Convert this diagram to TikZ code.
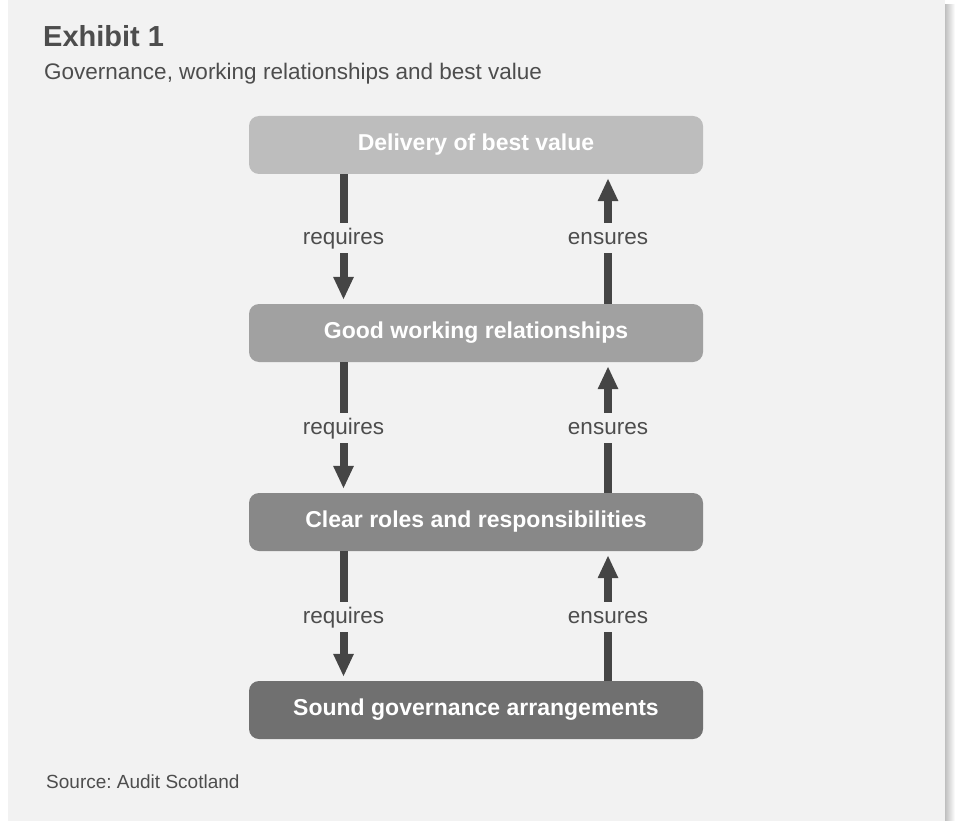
\documentclass[tikz,border=0pt]{standalone}
\usepackage{fontspec}
\setmainfont{Liberation Sans}
\usetikzlibrary{arrows.meta}
\frenchspacing

\definecolor{panel}{HTML}{F2F2F2}
\definecolor{ink}{HTML}{4D4D4D}
\definecolor{shaft}{HTML}{454545}
\definecolor{levela}{HTML}{BDBDBD}
\definecolor{levelb}{HTML}{A1A1A1}
\definecolor{levelc}{HTML}{888888}
\definecolor{leveld}{HTML}{707070}

\tikzset{
  stage/.style={rounded corners=10pt, minimum width=454pt, minimum height=58pt,
    inner sep=0pt, text=white, font=\fontsize{23}{27}\selectfont\bfseries},
  verb/.style={inner sep=0pt, text height=21pt, text depth=9pt, text=ink,
    font=\fontsize{22.5}{26}\selectfont},
  caption/.style={anchor=base west, inner sep=0pt, text=ink},
  link/.style={shaft, line width=8pt},
  head/.style={link, -{Triangle[width=19pt,length=23pt]}, shorten >=4pt},
}

\begin{document}
\begin{tikzpicture}[x=1pt,y=-1pt]
  \useasboundingbox (0,0) rectangle (955,821);
  \fill[white] (0,0) rectangle (955,821);
  \fill[panel] (8,0) rectangle (945,821);
  \shade[left color=black!25, right color=white] (945,5) rectangle (955,821);

  % heading and source line
  \node[caption, font=\fontsize{29}{34}\selectfont\bfseries]
    (title) at (43,47) {Exhibit 1};
  \node[caption, font=\fontsize{22.5}{27}\selectfont]
    (subtitle) at (44,80) {Governance, working relationships and best value};
  \node[caption, font=\fontsize{19}{23}\selectfont]
    (source) at (46,788) {Source: Audit Scotland};

  % the four levels
  \node[stage, fill=levela] (best) at (476,145) {Delivery of best value};
  \node[stage, fill=levelb] (work) at (476,333) {Good working relationships};
  \node[stage, fill=levelc] (roles) at (476,522) {Clear roles and responsibilities};
  \node[stage, fill=leveld] (gov) at (476,710) {Sound governance arrangements};

  % labels between the levels
  \node[verb] (reqa) at (343.5,238) {requires};
  \node[verb] (ensa) at (608,238) {ensures};
  \node[verb] (reqb) at (343.5,428) {requires};
  \node[verb] (ensb) at (608,428) {ensures};
  \node[verb] (reqc) at (343.5,617) {requires};
  \node[verb] (ensc) at (608,617) {ensures};

  % downward arrows
  \draw[link] (best.south -| reqa) -- (reqa);
  \draw[head] (reqa) -- (work.north -| reqa);
  \draw[link] (work.south -| reqb) -- (reqb);
  \draw[head] (reqb) -- (roles.north -| reqb);
  \draw[link] (roles.south -| reqc) -- (reqc);
  \draw[head] (reqc) -- (gov.north -| reqc);

  % upward arrows
  \draw[link] (work.north -| ensa) -- (ensa);
  \draw[head] (ensa) -- (best.south -| ensa);
  \draw[link] (roles.north -| ensb) -- (ensb);
  \draw[head] (ensb) -- (work.south -| ensb);
  \draw[link] (gov.north -| ensc) -- (ensc);
  \draw[head] (ensc) -- (roles.south -| ensc);
\end{tikzpicture}
\end{document}
